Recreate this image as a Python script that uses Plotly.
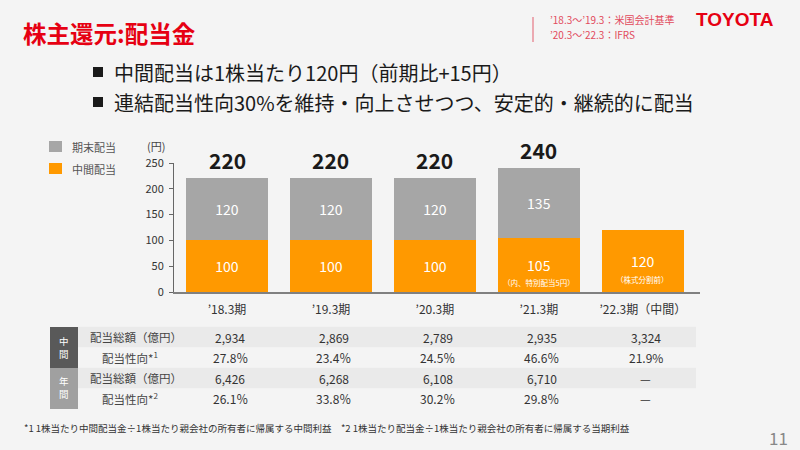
import plotly.graph_objects as go

# ---------------- data ----------------
categories = ["’18.3期", "’19.3期", "’20.3期", "’21.3期", "’22.3期（中間）"]
interim = [100, 100, 100, 105, 120]          # 中間配当
year_end = [120, 120, 120, 135, None]        # 期末配当
bar_notes = ["", "", "", "（内、特別配当5円）", "（株式分割前）"]
series_names = ["期末配当", "中間配当"]

row_labels = ["配当総額（億円）", "配当性向*<sup>1</sup>", "配当総額（億円）", "配当性向*<sup>2</sup>"]
interim_amount = ["2,934", "2,869", "2,789", "2,935", "3,324"]
interim_payout = ["27.8％", "23.4％", "24.5％", "46.6％", "21.9%"]
annual_amount = ["6,426", "6,268", "6,108", "6,710", "—"]
annual_payout = ["26.1％", "33.8％", "30.2％", "29.8％", "—"]
table_rows = [interim_amount, interim_payout, annual_amount, annual_payout]
group_labels = [["中", "間"], ["年", "間"]]

y_ticks = [0, 50, 100, 150, 200, 250]

# ---------------- style ----------------
FONT = "Noto Sans CJK JP"
ORANGE = "#FF9900"
GRAY = "#A6A6A6"
BG = "#F4F4F4"
RED = "#E60012"
W, H = 800, 450


def X(px):
    return px / W


def Y(py):
    return 1 - py / H


fig = go.Figure()
fig.add_bar(x=categories, y=interim, name=series_names[1], marker_color=ORANGE,
            marker_line_width=0,
            text=[str(v) for v in interim], textposition="inside",
            insidetextanchor="middle", textangle=0,
            textfont=dict(color="white", size=14, family=FONT))
fig.add_bar(x=categories, y=year_end, name=series_names[0], marker_color=GRAY,
            marker_line_width=0,
            text=[("" if v is None else str(v)) for v in year_end], textposition="inside",
            insidetextanchor="middle", textangle=0,
            textfont=dict(color="white", size=14, family=FONT))

ann = []
shapes = []


def label(px_x, px_y, text, size, color, xanchor="left", family=FONT, **kw):
    ann.append(dict(x=X(px_x), y=Y(px_y), xref="paper", yref="paper", text=text,
                    showarrow=False, xanchor=xanchor, yanchor="middle",
                    font=dict(size=size, color=color, family=family), **kw))


# totals above bars
for c, a, b in zip(categories, interim, year_end):
    if b is not None:
        ann.append(dict(x=c, y=a + b, xref="x", yref="y", text=str(a + b),
                        showarrow=False, xanchor="center", yanchor="bottom", yshift=1,
                        font=dict(size=21, color="#1a1a1a", family=FONT, weight="bold")))
# notes inside orange bars
for c, a, n in zip(categories, interim, bar_notes):
    if n:
        ann.append(dict(x=c, y=a / 2, xref="x", yref="y", text=n, showarrow=False,
                        xanchor="center", yanchor="middle",
                        yshift=-18, font=dict(size=7.5, color="white", family=FONT)))

# y unit
label(145, 146, "(円)", 11, "#444")

# legend (manual)
for (name, col, yc) in [(series_names[0], GRAY, 146.5), (series_names[1], ORANGE, 168.5)]:
    shapes.append(dict(type="rect", xref="paper", yref="paper", x0=X(49), x1=X(62),
                       y0=Y(yc - 5.5), y1=Y(yc + 5.5), fillcolor=col, line_width=0))
    label(70, yc, name, 11, "#555")

# title & bullets
label(21, 33, "<b>株主還元:配当金</b>", 23.5, RED)
for yc, txt in [(72, "中間配当は1株当たり120円（前期比+15円）"),
                (102, "連結配当性向30%を維持・向上させつつ、安定的・継続的に配当")]:
    shapes.append(dict(type="rect", xref="paper", yref="paper", x0=X(93), x1=X(103),
                       y0=Y(yc + 5), y1=Y(yc - 5), fillcolor="#1a1a1a", line_width=0))
    label(112, yc, txt, 20, "#1a1a1a")

# top right notes
shapes.append(dict(type="line", xref="paper", yref="paper", x0=X(533), x1=X(533),
                   y0=Y(17), y1=Y(42), line=dict(color="#E8919B", width=1.5)))
label(548, 19, "’18.3～’19.3：米国会計基準", 10, "#E24A5C")
label(548, 35, "’20.3～’22.3：IFRS", 10, "#E24A5C")
label(694, 20, "<b>TOYOTA</b>", 19, RED, family="Liberation Sans")

# table
row_centers = [337, 357.5, 378, 398.5]
row_h = 20.5
for i in (0, 2):
    shapes.append(dict(type="rect", xref="paper", yref="paper", x0=X(78), x1=X(696),
                       y0=Y(row_centers[i] - row_h / 2), y1=Y(row_centers[i] + row_h / 2),
                       fillcolor="#EAEAEA", line_width=0, layer="below"))
shapes.append(dict(type="rect", xref="paper", yref="paper", x0=X(50), x1=X(78),
                   y0=Y(327), y1=Y(368), fillcolor="#595959", line_width=0, layer="below"))
shapes.append(dict(type="rect", xref="paper", yref="paper", x0=X(50), x1=X(78),
                   y0=Y(368), y1=Y(409), fillcolor="#A0A0A0", line_width=0, layer="below"))
for chars, ys in zip(group_labels, [(340.5, 353.5), (380.5, 393.5)]):
    for ch, yc in zip(chars, ys):
        label(64, yc, ch, 9.5, "white", xanchor="center", borderpad=0)
for i, (lab, vals) in enumerate(zip(row_labels, table_rows)):
    xl = 88 if i % 2 == 0 else 100
    label(xl, row_centers[i], lab, 11.5, "#444")
    for c, v in zip(categories, vals):
        ann.append(dict(x=c, y=Y(row_centers[i]), xref="x", yref="paper", text=v,
                        showarrow=False, xshift=3, xanchor="center", yanchor="middle",
                        font=dict(size=12, color="#333", family=FONT)))

# footnote & page number
label(22, 428, "*1 1株当たり中間配当金÷1株当たり親会社の所有者に帰属する中間利益　*2 1株当たり配当金÷1株当たり親会社の所有者に帰属する当期利益",
      9.5, "#333")
label(790, 437, "11", 17, "#888", xanchor="right")

fig.update_layout(
    width=W, height=H, autosize=False,
    margin=dict(l=0, r=0, t=0, b=0, pad=0),
    paper_bgcolor=BG, plot_bgcolor=BG,
    barmode="stack", bargap=0.21, showlegend=False,
    font=dict(family=FONT),
    annotations=ann, shapes=shapes,
    xaxis=dict(domain=[X(174), X(700)], type="category", range=[-0.51, 4.55],
               showline=True, linecolor="#808080", linewidth=2, ticks="",
               showgrid=False, zeroline=False, ticklabelstandoff=6, automargin=False,
               tickfont=dict(size=12, color="#333", family=FONT)),
    yaxis=dict(domain=[Y(292), Y(163)], range=[0, 250], tickvals=y_ticks,
               showline=True, linecolor="#666", linewidth=1, ticks="outside",
               ticklen=4, tickcolor="#666", showgrid=False, zeroline=False,
               ticklabelstandoff=3, automargin=False,
               tickfont=dict(size=11, color="#333", family=FONT)),
)

fig.write_html("out.html", config={"displayModeBar": False},
               post_script="document.body.style.margin='0';document.body.style.overflow='hidden';")
